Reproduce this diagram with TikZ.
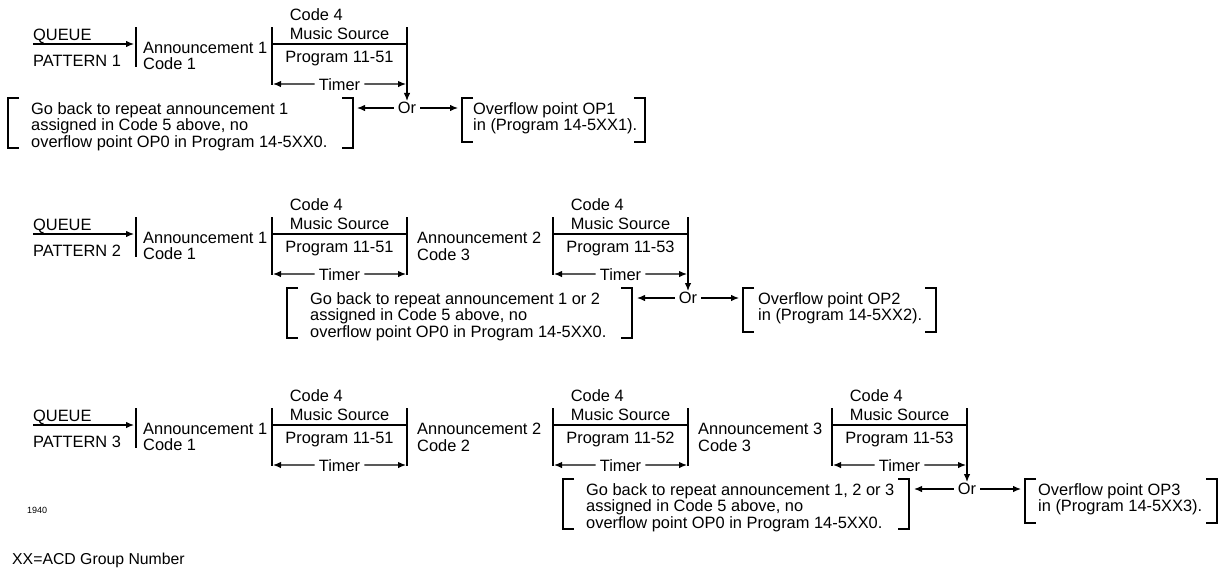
\documentclass[tikz,border=0pt]{standalone}
\usepackage{fontspec}
\setmainfont{Liberation Sans}
\usetikzlibrary{arrows.meta}
\tikzset{
  lbl/.style={
    inner sep=0pt,
    align=left,
    font=\fontsize{16.4}{16.5}\selectfont
  },
  srclbl/.style={
    lbl,
    font=\fontsize{16.4}{18.5}\selectfont
  },
  timerlbl/.style={
    lbl,
    anchor=base,
    inner xsep=4pt
  },
  orlbl/.style={
    lbl,
    inner xsep=4pt,
    inner ysep=1pt
  },
  rule/.style={line width=1.2pt},
  brak/.style={line width=1.6pt},
  every edge/.style={draw, -{Latex[length=8pt,width=6.5pt]}, line width=1.2pt}
}

\begin{document}
\begin{tikzpicture}[x=1pt,y=-1pt]
  \useasboundingbox (0,0) rectangle (1225,571);

  % pattern 1
  \node[lbl, anchor=base west] (queue1) at (33,40) {QUEUE};
  \node[lbl, anchor=base west] (pat1) at (33,66) {PATTERN 1};
  \coordinate (in1) at (33,44);
  \coordinate (ann1in) at (134,44);
  \draw[rule] (136,27) -- (136,67);
  \node[lbl, anchor=north west] (ann11) at (143,42) {Announcement 1\\Code 1};

  \draw[rule] (272,27) -- (272,85) (272,44) -- (407,44);
  \node[srclbl, anchor=north] (src11) at (339.5,8.5) {Code 4\\Music Source};
  \node[lbl, anchor=base] (prog11) at (339.5,62) {Program 11-51};
  \node[timerlbl] (tmr11) at (339.5,90) {Timer};
  \coordinate (tl11) at (273,84);
  \coordinate (tr11) at (406,84);
  \coordinate (drop1) at (407,27);

  \node[orlbl] (or1) at (407,108) {Or};
  \node[lbl, anchor=north west] (back1) at (31,102)
    {Go back to repeat announcement 1\\assigned in Code 5 above, no\\overflow point OP0 in Program 14-5XX0.};
  \draw[brak] (19,98) -- (8,98) -- (8,148) -- (19,148);
  \draw[brak] (342,98) -- (353,98) -- (353,148) -- (342,148);
  \coordinate (back1in) at (357,108);
  \node[lbl, anchor=north west] (ovf1) at (473,102) {Overflow point OP1\\in (Program 14-5XX1).};
  \draw[brak] (473,98) -- (462,98) -- (462,142) -- (473,142);
  \draw[brak] (634,98) -- (645,98) -- (645,142) -- (634,142);
  \coordinate (ovf1in) at (458,108);

  \path (in1) edge (ann1in)
        (tmr11) edge (tl11)
        (tmr11) edge (tr11)
        (drop1) edge (or1)
        (or1) edge (back1in)
        (or1) edge (ovf1in);

  % pattern 2
  \begin{scope}[yshift=-190pt]
    \node[lbl, anchor=base west] (queue2) at (33,40) {QUEUE};
    \node[lbl, anchor=base west] (pat2) at (33,66) {PATTERN 2};
    \coordinate (in2) at (33,44);
    \coordinate (ann2in) at (134,44);
    \draw[rule] (136,27) -- (136,67);
    \node[lbl, anchor=north west] (ann21) at (143,42) {Announcement 1\\Code 1};

    \draw[rule] (272,27) -- (272,85) (272,44) -- (407,44) (407,27) -- (407,85);
    \node[srclbl, anchor=north] (src21) at (339.5,8.5) {Code 4\\Music Source};
    \node[lbl, anchor=base] (prog21) at (339.5,62) {Program 11-51};
    \node[timerlbl] (tmr21) at (339.5,90) {Timer};
    \coordinate (tl21) at (273,84);
    \coordinate (tr21) at (406,84);

    \node[lbl, anchor=north west] (ann22) at (417,42) {Announcement 2\\Code 3};

    \draw[rule] (553,27) -- (553,85) (553,44) -- (688,44);
    \node[srclbl, anchor=north] (src22) at (620.5,8.5) {Code 4\\Music Source};
    \node[lbl, anchor=base] (prog22) at (620.5,62) {Program 11-53};
    \node[timerlbl] (tmr22) at (620.5,90) {Timer};
    \coordinate (tl22) at (554,84);
    \coordinate (tr22) at (687,84);
    \coordinate (drop2) at (688,27);

    \node[orlbl] (or2) at (688,108) {Or};
    \node[lbl, anchor=north west] (back2) at (310,102)
      {Go back to repeat announcement 1 or 2\\assigned in Code 5 above, no\\overflow point OP0 in Program 14-5XX0.};
    \draw[brak] (298,98) -- (287,98) -- (287,148) -- (298,148);
    \draw[brak] (621,98) -- (632,98) -- (632,148) -- (621,148);
    \coordinate (back2in) at (637,108);
    \node[lbl, anchor=north west] (ovf2) at (758,102) {Overflow point OP2\\in (Program 14-5XX2).};
    \draw[brak] (754,98) -- (743,98) -- (743,142) -- (754,142);
    \draw[brak] (925,98) -- (936,98) -- (936,142) -- (925,142);
    \coordinate (ovf2in) at (739,108);

    \path (in2) edge (ann2in)
          (tmr21) edge (tl21)
          (tmr21) edge (tr21)
          (tmr22) edge (tl22)
          (tmr22) edge (tr22)
          (drop2) edge (or2)
          (or2) edge (back2in)
          (or2) edge (ovf2in);
  \end{scope}

  % pattern 3
  \begin{scope}[yshift=-381pt]
    \node[lbl, anchor=base west] (queue3) at (33,40) {QUEUE};
    \node[lbl, anchor=base west] (pat3) at (33,66) {PATTERN 3};
    \coordinate (in3) at (33,44);
    \coordinate (ann3in) at (134,44);
    \draw[rule] (136,27) -- (136,67);
    \node[lbl, anchor=north west] (ann31) at (143,42) {Announcement 1\\Code 1};

    \draw[rule] (272,27) -- (272,85) (272,44) -- (407,44) (407,27) -- (407,85);
    \node[srclbl, anchor=north] (src31) at (339.5,8.5) {Code 4\\Music Source};
    \node[lbl, anchor=base] (prog31) at (339.5,62) {Program 11-51};
    \node[timerlbl] (tmr31) at (339.5,90) {Timer};
    \coordinate (tl31) at (273,84);
    \coordinate (tr31) at (406,84);

    \node[lbl, anchor=north west] (ann32) at (417,42) {Announcement 2\\Code 2};

    \draw[rule] (553,27) -- (553,85) (553,44) -- (688,44) (688,27) -- (688,85);
    \node[srclbl, anchor=north] (src32) at (620.5,8.5) {Code 4\\Music Source};
    \node[lbl, anchor=base] (prog32) at (620.5,62) {Program 11-52};
    \node[timerlbl] (tmr32) at (620.5,90) {Timer};
    \coordinate (tl32) at (554,84);
    \coordinate (tr32) at (687,84);

    \node[lbl, anchor=north west] (ann33) at (698,42) {Announcement 3\\Code 3};

    \draw[rule] (832,27) -- (832,85) (832,44) -- (967,44);
    \node[srclbl, anchor=north] (src33) at (899.5,8.5) {Code 4\\Music Source};
    \node[lbl, anchor=base] (prog33) at (899.5,62) {Program 11-53};
    \node[timerlbl] (tmr33) at (899.5,90) {Timer};
    \coordinate (tl33) at (833,84);
    \coordinate (tr33) at (966,84);
    \coordinate (drop3) at (967,27);

    \node[orlbl] (or3) at (967,108) {Or};
    \node[lbl, anchor=north west] (back3) at (586,102)
      {Go back to repeat announcement 1, 2 or 3\\assigned in Code 5 above, no\\overflow point OP0 in Program 14-5XX0.};
    \draw[brak] (574,98) -- (563,98) -- (563,148) -- (574,148);
    \draw[brak] (898,98) -- (909,98) -- (909,148) -- (898,148);
    \coordinate (back3in) at (914,108);
    \node[lbl, anchor=north west] (ovf3) at (1038,102) {Overflow point OP3\\in (Program 14-5XX3).};
    \draw[brak] (1036,98) -- (1025,98) -- (1025,142) -- (1036,142);
    \draw[brak] (1206,98) -- (1217,98) -- (1217,142) -- (1206,142);
    \coordinate (ovf3in) at (1021,108);

    \path (in3) edge (ann3in)
          (tmr31) edge (tl31)
          (tmr31) edge (tr31)
          (tmr32) edge (tl32)
          (tmr32) edge (tr32)
          (tmr33) edge (tl33)
          (tmr33) edge (tr33)
          (drop3) edge (or3)
          (or3) edge (back3in)
          (or3) edge (ovf3in);
  \end{scope}

  % footer
  \node[inner sep=0pt, anchor=west, font=\fontsize{9}{10}\selectfont] (fig) at (27,510) {1940};
  \node[lbl, anchor=base west, font=\fontsize{15.8}{16}\selectfont] (xxnote) at (12,564) {XX=ACD Group Number};
\end{tikzpicture}
\end{document}
